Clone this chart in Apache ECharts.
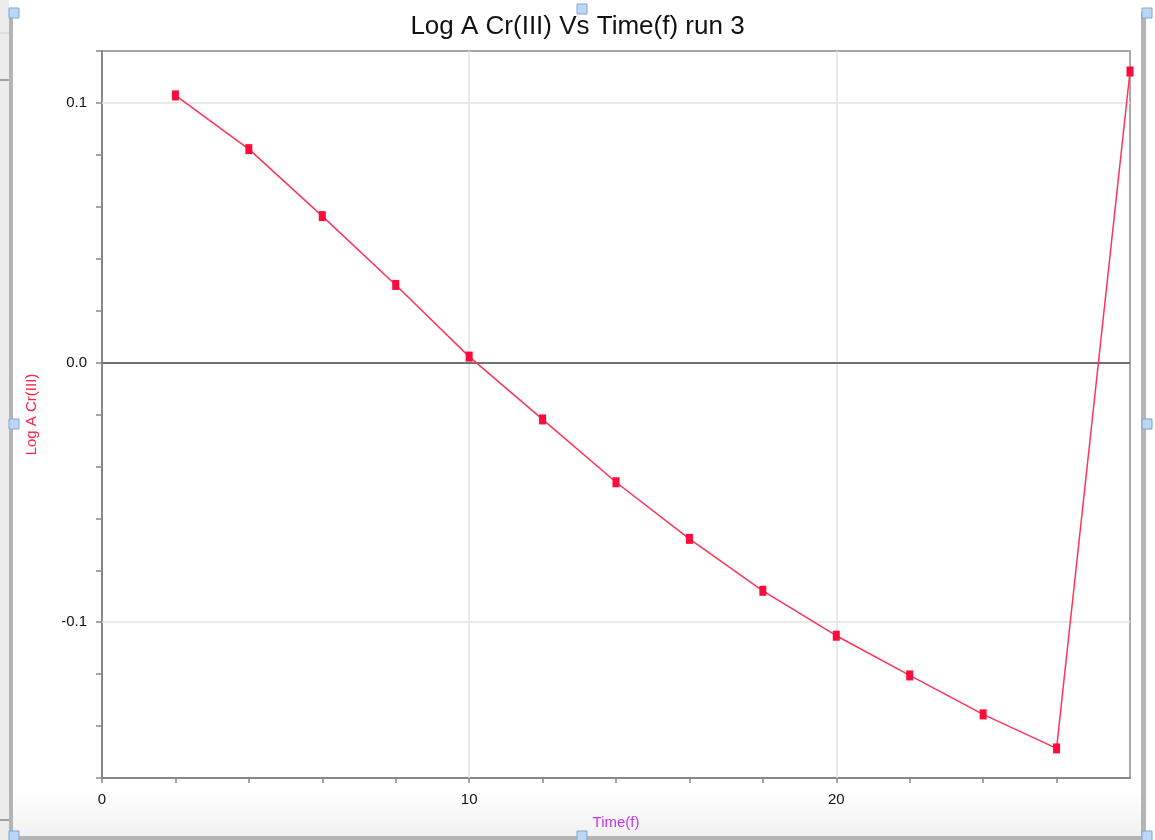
<!DOCTYPE html>
<html>
<head>
<meta charset="utf-8">
<title>Log A Cr(III) Vs Time(f) run 3</title>
<script src="https://cdn.jsdelivr.net/npm/echarts@6/dist/echarts.min.js"></script>
<style>
  html, body { margin: 0; padding: 0; background: #ffffff; }
  #chart { width: 1155px; height: 840px; }
</style>
</head>
<body>
<div id="chart"></div>
<script>
// Measured run 3: time (f) against log absorbance of Cr(III)
const timeValues = [2, 4, 6, 8, 10, 12, 14, 16, 18, 20, 22, 24, 26, 28];
const logAValues = [0.1029, 0.0822, 0.0564, 0.0299, 0.0023, -0.0219, -0.0461,
                    -0.0679, -0.0879, -0.1052, -0.1205, -0.1355, -0.1486, 0.1121];

const xLabelValues = [0, 10, 20];
const yLabelValues = [0.1, 0.0, -0.1];

const chartTitle = 'Log A Cr(III) Vs Time(f) run 3';
const xName = 'Time(f)';
const yName = 'Log A Cr(III)';

const seriesData = timeValues.map((t, i) => [t, logAValues[i]]);
const near = (v, list) => list.some(l => Math.abs(v - l) < 1e-6);

const FONT = '"Liberation Sans", Arial, Helvetica, sans-serif';
const chart = echarts.init(document.getElementById('chart'), null, { renderer: 'canvas' });

// Window frame pieces around the plot (side rails and resize handles)
const handle = (x, y) => ({
  type: 'rect', shape: { x: x - 5, y: y - 5, width: 10, height: 10 },
  style: { fill: '#bcd7f5', stroke: '#7fa6d6', lineWidth: 1 }, z: 100
});

chart.setOption({
  backgroundColor: '#ffffff',
  animation: false,
  title: {
    text: chartTitle,
    left: 'center',
    top: 9,
    textStyle: { fontFamily: FONT, fontSize: 26, fontWeight: 'normal', color: '#111111' }
  },
  grid: {
    left: 102, right: 25, top: 51, bottom: 62,
    show: true, borderColor: '#a8a8a8', borderWidth: 2, backgroundColor: 'transparent'
  },
  xAxis: {
    type: 'value',
    min: 0, max: 28, interval: 2,
    name: xName,
    nameLocation: 'middle',
    nameGap: 37,
    nameTextStyle: { fontFamily: FONT, fontSize: 15, color: '#cc33ee' },
    axisLine: { show: true, onZero: false, lineStyle: { color: '#888888', width: 2 } },
    axisTick: { show: true, length: 5, lineStyle: { color: '#888888', width: 1.5 } },
    axisLabel: {
      fontFamily: FONT, fontSize: 15, color: '#111111', margin: 14,
      showMaxLabel: false,
      formatter: v => near(v, xLabelValues) ? String(v) : ''
    },
    splitLine: { show: false }
  },
  yAxis: {
    type: 'value',
    min: -0.16, max: 0.12, interval: 0.02,
    name: yName,
    nameLocation: 'middle',
    nameGap: 63,
    nameRotate: 90,
    nameTextStyle: { fontFamily: FONT, fontSize: 15, color: '#ff2244' },
    axisLine: { show: true, onZero: false, lineStyle: { color: '#888888', width: 2 } },
    axisTick: { show: true, length: 6, lineStyle: { color: '#888888', width: 1.5 } },
    axisLabel: {
      fontFamily: FONT, fontSize: 15, color: '#111111', margin: 15,
      formatter: v => near(v, yLabelValues) ? v.toFixed(1) : ''
    },
    splitLine: { show: false }
  },
  series: [{
    type: 'line',
    data: seriesData,
    symbol: 'rect',
    symbolSize: [7, 10],
    showAllSymbol: true,
    clip: true,
    itemStyle: { color: '#ff0a3c' },
    lineStyle: { color: '#ff3355', width: 1.5 },
    markLine: {
      silent: true,
      symbol: 'none',
      label: { show: false },
      animation: false,
      data: [
        { xAxis: 10, lineStyle: { color: '#e2e2e2', width: 1.5, type: 'solid' } },
        { xAxis: 20, lineStyle: { color: '#e2e2e2', width: 1.5, type: 'solid' } },
        { yAxis: 0.1, lineStyle: { color: '#e2e2e2', width: 1.5, type: 'solid' } },
        { yAxis: -0.1, lineStyle: { color: '#e2e2e2', width: 1.5, type: 'solid' } },
        { yAxis: 0, lineStyle: { color: '#707070', width: 2, type: 'solid' } }
      ],
      z: 1
    },
    z: 5
  }],
  graphic: [
    // soft shading along the bottom edge
    { type: 'rect', shape: { x: 0, y: 790, width: 1155, height: 46 }, z: -10,
      style: { fill: new echarts.graphic.LinearGradient(0, 0, 0, 1, [
        { offset: 0, color: '#ffffff' }, { offset: 1, color: '#f1f1f1' }]) } },
    // left rail
    { type: 'rect', shape: { x: 0, y: 0, width: 9, height: 840 }, style: { fill: '#ececec' }, z: 90 },
    { type: 'line', shape: { x1: 0, y1: 33, x2: 9, y2: 33 }, style: { stroke: '#cfcfcf', lineWidth: 1 }, z: 91 },
    { type: 'line', shape: { x1: 0, y1: 80, x2: 9, y2: 80 }, style: { stroke: '#555555', lineWidth: 1 }, z: 91 },
    { type: 'line', shape: { x1: 0, y1: 820, x2: 9, y2: 820 }, style: { stroke: '#555555', lineWidth: 1 }, z: 91 },
    { type: 'rect', shape: { x: 9, y: 12, width: 4, height: 828 }, style: { fill: '#b4b4b4' }, z: 92 },
    // right rail
    { type: 'rect', shape: { x: 1141, y: 12, width: 5, height: 828 }, style: { fill: '#b4b4b4' }, z: 92 },
    { type: 'rect', shape: { x: 1146, y: 0, width: 9, height: 840 }, style: { fill: '#ffffff' }, z: 90 },
    // bottom rail
    { type: 'rect', shape: { x: 9, y: 836, width: 1137, height: 4 }, style: { fill: '#b4b4b4' }, z: 92 },
    handle(14, 13), handle(14, 424), handle(14, 836),
    handle(582, 9), handle(582, 836),
    handle(1147, 13), handle(1147, 424), handle(1147, 836)
  ]
});
</script>
</body>
</html>
